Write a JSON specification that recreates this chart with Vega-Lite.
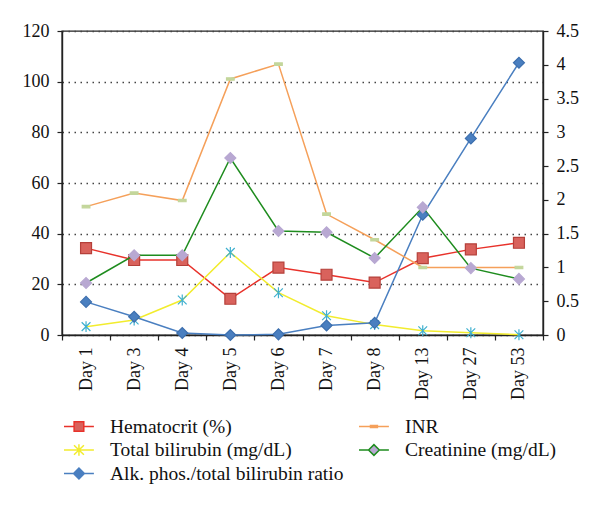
{
  "$schema": "https://vega.github.io/schema/vega-lite/v6.json",
  "width": 481,
  "height": 304,
  "autosize": "none",
  "padding": {"left": 62, "top": 31, "right": 57, "bottom": 172},
  "background": "white",
  "config": {
    "font": "Liberation Serif, Times New Roman, serif",
    "view": {"stroke": "#222", "strokeWidth": 1.4},
    "axis": {
      "labelFont": "Liberation Serif, Times New Roman, serif",
      "labelFontSize": 18,
      "labelColor": "#111",
      "domainColor": "#222",
      "domainWidth": 1.4,
      "tickColor": "#222",
      "tickWidth": 1.2,
      "tickSize": 5,
      "title": null
    }
  },
  "data": {
    "values": [
      {"day": "Day 1", "series": "Hematocrit (%)", "value": 34.3},
      {"day": "Day 3", "series": "Hematocrit (%)", "value": 29.6},
      {"day": "Day 4", "series": "Hematocrit (%)", "value": 29.6},
      {"day": "Day 5", "series": "Hematocrit (%)", "value": 14.3},
      {"day": "Day 6", "series": "Hematocrit (%)", "value": 26.6},
      {"day": "Day 7", "series": "Hematocrit (%)", "value": 23.8},
      {"day": "Day 8", "series": "Hematocrit (%)", "value": 20.7},
      {"day": "Day 13", "series": "Hematocrit (%)", "value": 30.3},
      {"day": "Day 27", "series": "Hematocrit (%)", "value": 33.8},
      {"day": "Day 53", "series": "Hematocrit (%)", "value": 36.4},
      {"day": "Day 1", "series": "Total bilirubin (mg/dL)", "value": 3.3},
      {"day": "Day 3", "series": "Total bilirubin (mg/dL)", "value": 5.9},
      {"day": "Day 4", "series": "Total bilirubin (mg/dL)", "value": 13.8},
      {"day": "Day 5", "series": "Total bilirubin (mg/dL)", "value": 32.6},
      {"day": "Day 6", "series": "Total bilirubin (mg/dL)", "value": 16.7},
      {"day": "Day 7", "series": "Total bilirubin (mg/dL)", "value": 7.6},
      {"day": "Day 8", "series": "Total bilirubin (mg/dL)", "value": 4.1},
      {"day": "Day 13", "series": "Total bilirubin (mg/dL)", "value": 1.7},
      {"day": "Day 27", "series": "Total bilirubin (mg/dL)", "value": 0.9},
      {"day": "Day 53", "series": "Total bilirubin (mg/dL)", "value": 0.1},
      {"day": "Day 1", "series": "Alk. phos./total bilirubin ratio", "value": 0.49},
      {"day": "Day 3", "series": "Alk. phos./total bilirubin ratio", "value": 0.27},
      {"day": "Day 4", "series": "Alk. phos./total bilirubin ratio", "value": 0.03},
      {"day": "Day 5", "series": "Alk. phos./total bilirubin ratio", "value": 0.0},
      {"day": "Day 6", "series": "Alk. phos./total bilirubin ratio", "value": 0.01},
      {"day": "Day 7", "series": "Alk. phos./total bilirubin ratio", "value": 0.14},
      {"day": "Day 8", "series": "Alk. phos./total bilirubin ratio", "value": 0.18},
      {"day": "Day 13", "series": "Alk. phos./total bilirubin ratio", "value": 1.78},
      {"day": "Day 27", "series": "Alk. phos./total bilirubin ratio", "value": 2.91},
      {"day": "Day 53", "series": "Alk. phos./total bilirubin ratio", "value": 4.03},
      {"day": "Day 1", "series": "INR", "value": 1.9},
      {"day": "Day 3", "series": "INR", "value": 2.1},
      {"day": "Day 4", "series": "INR", "value": 1.99},
      {"day": "Day 5", "series": "INR", "value": 3.79},
      {"day": "Day 6", "series": "INR", "value": 4.01},
      {"day": "Day 7", "series": "INR", "value": 1.79},
      {"day": "Day 8", "series": "INR", "value": 1.41},
      {"day": "Day 13", "series": "INR", "value": 1.0},
      {"day": "Day 27", "series": "INR", "value": 1.0},
      {"day": "Day 53", "series": "INR", "value": 1.0},
      {"day": "Day 1", "series": "Creatinine (mg/dL)", "value": 0.77},
      {"day": "Day 3", "series": "Creatinine (mg/dL)", "value": 1.18},
      {"day": "Day 4", "series": "Creatinine (mg/dL)", "value": 1.18},
      {"day": "Day 5", "series": "Creatinine (mg/dL)", "value": 2.62},
      {"day": "Day 6", "series": "Creatinine (mg/dL)", "value": 1.54},
      {"day": "Day 7", "series": "Creatinine (mg/dL)", "value": 1.52},
      {"day": "Day 8", "series": "Creatinine (mg/dL)", "value": 1.14},
      {"day": "Day 13", "series": "Creatinine (mg/dL)", "value": 1.89},
      {"day": "Day 27", "series": "Creatinine (mg/dL)", "value": 0.99},
      {"day": "Day 53", "series": "Creatinine (mg/dL)", "value": 0.83}
    ]
  },
  "encoding": {
    "x": {
      "field": "day",
      "type": "ordinal",
      "sort": ["Day 1", "Day 3", "Day 4", "Day 5", "Day 6", "Day 7", "Day 8", "Day 13", "Day 27", "Day 53"],
      "scale": {"type": "band", "paddingInner": 0, "paddingOuter": 0},
      "axis": {"labelAngle": -90, "tickBand": "extent", "labelPadding": 7, "grid": false}
    }
  },
  "layer": [
    {
      "transform": [{"filter": "datum.series == 'Hematocrit (%)' || datum.series == 'Total bilirubin (mg/dL)'"}],
      "encoding": {
        "y": {
          "field": "value",
          "type": "quantitative",
          "scale": {"domain": [0, 120], "nice": false, "zero": true},
          "axis": {
            "values": [0, 20, 40, 60, 80, 100, 120],
            "grid": true,
            "gridDash": [1.5, 4.5],
            "gridColor": "#444",
            "gridWidth": 1.3,
            "labelPadding": 8
          }
        }
      },
      "layer": [
        {
          "mark": {"type": "line", "strokeWidth": 1.5},
          "encoding": {
            "color": {
              "field": "series",
              "type": "nominal",
              "scale": {
                "domain": ["Hematocrit (%)", "Total bilirubin (mg/dL)", "Alk. phos./total bilirubin ratio", "INR", "Creatinine (mg/dL)"],
                "range": ["#e8322b", "#f2ec2e", "#4a7fc0", "#f5a05a", "#1e8c1e"]
              },
              "legend": {
                "title": null,
                "orient": "none",
                "legendX": 1,
                "legendY": 383,
                "direction": "vertical",
                "columns": 2,
                "columnPadding": 12,
                "rowPadding": 1.5,
                "labelFont": "Liberation Serif, Times New Roman, serif",
                "labelFontSize": 19.5,
                "labelColor": "#111",
                "labelOffset": 22,
                "labelLimit": 400,
                "symbolSize": 529,
                "symbolStrokeWidth": 1.5,
                "encode": {
                  "symbols": {
                    "update": {
                      "shape": {"signal": "datum.value == 'Hematocrit (%)' ? 'M-1,0H-0.12M0.72,0H1.6M-0.12,-0.42H0.72V0.42H-0.12Z' : datum.value == 'Total bilirubin (mg/dL)' ? 'M-1,0H1.6M0.3,-0.5V0.5M-0.13,-0.42L0.73,0.42M-0.13,0.42L0.73,-0.42' : datum.value == 'INR' ? 'M-1,0H1.6M0,-0.09H0.6V0.09H0Z' : 'M-1,0H-0.17M0.77,0H1.6M-0.17,0L0.3,-0.47L0.77,0L0.3,0.47Z'"},
                      "fill": {"signal": "datum.value == 'Hematocrit (%)' ? '#d9625c' : datum.value == 'Total bilirubin (mg/dL)' ? 'transparent' : datum.value == 'INR' ? '#c3d69b' : datum.value == 'Creatinine (mg/dL)' ? '#b8a8d2' : '#4a7fc0'"},
                      "stroke": {"signal": "datum.value == 'Hematocrit (%)' ? '#e8322b' : datum.value == 'Total bilirubin (mg/dL)' ? '#f2ec2e' : datum.value == 'INR' ? '#f5a05a' : datum.value == 'Creatinine (mg/dL)' ? '#1e8c1e' : '#4a7fc0'"},
                      "opacity": {"value": 1}
                    }
                  }
                }
              }
            }
          }
        },
        {
          "mark": {"type": "point", "filled": true, "size": 120, "strokeWidth": 1.2, "opacity": 1},
          "encoding": {
            "shape": {
              "field": "series",
              "type": "nominal",
              "scale": {
                "domain": ["INR", "Creatinine (mg/dL)", "Hematocrit (%)", "Total bilirubin (mg/dL)", "Alk. phos./total bilirubin ratio"],
                "range": ["M-0.7,-0.22H0.7V0.22H-0.7Z", "diamond", "square", "M0,-1V1M-0.8,-0.8L0.8,0.8M-0.8,0.8L0.8,-0.8", "diamond"]
              },
              "legend": null
            },
            "fill": {
              "field": "series",
              "type": "nominal",
              "scale": {
                "domain": ["INR", "Creatinine (mg/dL)", "Hematocrit (%)", "Total bilirubin (mg/dL)", "Alk. phos./total bilirubin ratio"],
                "range": ["#c3d69b", "#b8a8d2", "#d9625c", "transparent", "#4a7fc0"]
              },
              "legend": null
            },
            "stroke": {
              "field": "series",
              "type": "nominal",
              "scale": {
                "domain": ["INR", "Creatinine (mg/dL)", "Hematocrit (%)", "Total bilirubin (mg/dL)", "Alk. phos./total bilirubin ratio"],
                "range": ["#c3d69b", "#b8a8d2", "#b5403a", "#3fb0cf", "#3d6fae"]
              },
              "legend": null
            }
          }
        }
      ]
    },
    {
      "transform": [{"filter": "datum.series == 'Alk. phos./total bilirubin ratio' || datum.series == 'INR' || datum.series == 'Creatinine (mg/dL)'"}],
      "encoding": {
        "y": {
          "field": "value",
          "type": "quantitative",
          "scale": {"domain": [0, 4.5], "nice": false, "zero": true},
          "axis": {
            "orient": "right",
            "values": [0, 0.5, 1, 1.5, 2, 2.5, 3, 3.5, 4, 4.5],
            "format": "~g",
            "grid": false,
            "labelPadding": 8
          }
        }
      },
      "layer": [
        {
          "mark": {"type": "line", "strokeWidth": 1.5},
          "encoding": {
            "color": {"field": "series", "type": "nominal"}
          }
        },
        {
          "mark": {"type": "point", "filled": true, "size": 120, "strokeWidth": 1.2, "opacity": 1},
          "encoding": {
            "shape": {"field": "series", "type": "nominal", "legend": null},
            "fill": {"field": "series", "type": "nominal", "legend": null},
            "stroke": {"field": "series", "type": "nominal", "legend": null}
          }
        }
      ]
    }
  ],
  "resolve": {"scale": {"y": "independent"}}
}
